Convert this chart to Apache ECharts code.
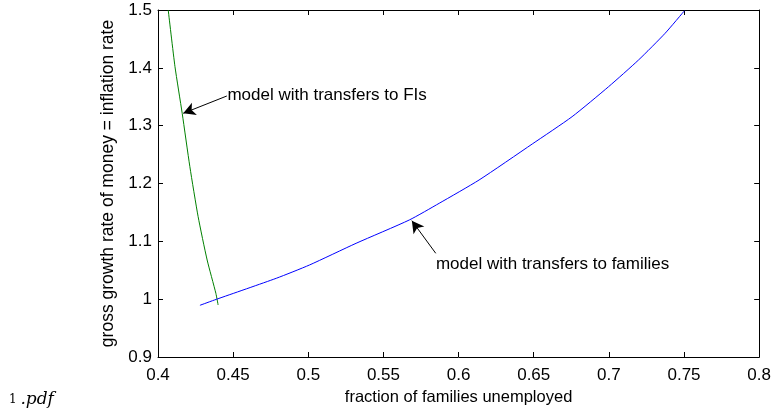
<!DOCTYPE html>
<html><head><meta charset="utf-8">
<script src="https://cdn.jsdelivr.net/npm/echarts@6/dist/echarts.min.js"></script>
<style>html,body{margin:0;padding:0;background:#fff}#c{width:774px;height:417px}</style>
</head><body><div id="c"></div>
<script>
const xTicks = [0.4,0.45,0.5,0.55,0.6,0.65,0.7,0.75,0.8];
const yTicks = [0.9,1,1.1,1.2,1.3,1.4,1.5];
const fisX = [0.4068,0.4113,0.4161,0.4212,0.4267,0.4327,0.4385,0.4400];
const fisY = [1.5,1.402,1.3214,1.229,1.1426,1.0677,1.0101,0.9899];
const famX = [0.4279,0.4389,0.4787,0.5008,0.5318,0.5672,0.5871,0.6136,0.649,0.6755,0.6998,0.7197,0.7374,0.7503];
const famY = [0.9894,0.9998,1.0361,1.0591,1.0966,1.1369,1.1658,1.206,1.2683,1.3155,1.3674,1.4135,1.4597,1.4988];
const fisLabel = 'model with transfers to FIs';
const famLabel = 'model with transfers to families';
const fisArrow = [[0.4458,1.3513],[0.4168,1.3214]];
const famArrow = [[0.5848,1.0793],[0.5689,1.1357]];
const fisText = [0.4462,1.352];
const famText = [0.5849,1.059];

const font = 'Liberation Sans, Arial, sans-serif';
const chart = echarts.init(document.getElementById('c'));
const zip = (a,b)=>a.map((v,i)=>[v,b[i]]);
const axBase = {type:'value', splitLine:{show:false},
  axisLine:{show:true,onZero:false,lineStyle:{color:'#000',width:1}},
  axisTick:{show:true,inside:true,length:5,lineStyle:{color:'#000'}}};
const arrowLine = (pts)=>({
  silent:true, symbol:['none','arrow'], symbolSize:[10,12],
  lineStyle:{color:'#000',width:1,type:'solid'}, label:{show:false},
  data:[[{coord:pts[0]},{coord:pts[1]}]], animation:false});
chart.setOption({
  animation:false,
  grid:{left:158,right:13,top:10,bottom:60,containLabel:false},
  xAxis:[
    Object.assign({},axBase,{min:0.4,max:0.8,interval:0.05,position:'bottom',
      name:'fraction of families unemployed',nameLocation:'middle',nameGap:32,
      nameTextStyle:{fontFamily:font,fontSize:16.5,color:'#000'},
      axisLabel:{fontFamily:font,fontSize:17,color:'#000',margin:10,
        formatter:v=>String(+v.toFixed(2))}}),
    Object.assign({},axBase,{min:0.4,max:0.8,interval:0.05,position:'top',axisLabel:{show:false}})
  ],
  yAxis:[
    Object.assign({},axBase,{min:0.9,max:1.5,interval:0.1,position:'left',
      name:'gross growth rate of money = inflation rate',nameLocation:'middle',nameGap:39,
      nameTextStyle:{fontFamily:font,fontSize:17.5,color:'#000'},
      axisLabel:{fontFamily:font,fontSize:17,color:'#000',margin:6,
        formatter:v=>String(+v.toFixed(1))}}),
    Object.assign({},axBase,{min:0.9,max:1.5,interval:0.1,position:'right',axisLabel:{show:false}})
  ],
  series:[
    {type:'line',data:zip(fisX,fisY),smooth:0.2,showSymbol:false,
      lineStyle:{color:'#008000',width:1},markLine:arrowLine(fisArrow)},
    {type:'line',data:zip(famX,famY),smooth:0.2,showSymbol:false,
      lineStyle:{color:'#0000ff',width:1},markLine:arrowLine(famArrow)}
  ]
});
const p1 = chart.convertToPixel({gridIndex:0}, fisText);
const p2 = chart.convertToPixel({gridIndex:0}, famText);
chart.setOption({graphic:[
  {type:'text',left:p1[0],top:p1[1]-9,style:{text:fisLabel,font:'17px '+font,fill:'#000'}},
  {type:'text',left:p2[0],top:p2[1]-9,style:{text:famLabel,font:'17px '+font,fill:'#000'}},
  {type:'text',left:9,top:391,style:{rich:{a:{fontFamily:'DejaVu Serif, serif',fontSize:12,fill:'#000'},
     b:{fontFamily:'DejaVu Serif, serif',fontStyle:'italic',fontSize:17,fill:'#000'}},text:'{a|1 }{b|.pdf}'}}
]});
</script></body></html>
